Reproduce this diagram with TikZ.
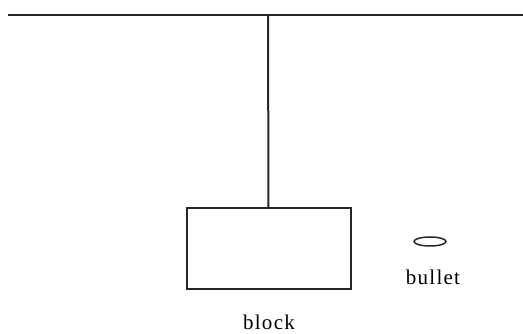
\documentclass[tikz,border=0pt]{standalone}
\usepackage{fontspec}
\usetikzlibrary{shapes.geometric}
\setmainfont{Liberation Serif}
\newfontfamily\lblfont[LetterSpace=6]{Liberation Serif}
\tikzset{
  ln/.style={line width=2pt, draw=black!85},
  lbl/.style={font=\lblfont\fontsize{21}{21}\selectfont, inner sep=0pt, anchor=base}
}
\begin{document}
\begin{tikzpicture}[x=1pt,y=-1pt]
\useasboundingbox (0,0) rectangle (523,334);
\coordinate (L) at (8,15);
\coordinate (R) at (523,15);
\coordinate (T) at (268,15);
\draw[ln] (L) -- (R);
\node[draw=black!85, line width=2pt, minimum width=164pt, minimum height=81pt, inner sep=0pt] (block) at (268.5,249) {};
\draw[ln] (T) -- (block.north);
\node[ellipse, draw=black!85, line width=1.5pt, minimum width=32pt, minimum height=9pt, inner sep=0pt] (bul) at (430,241.5) {};
\node[lbl] (bt) at (433,285) {bullet};
\node[lbl] (kt) at (269,330) {block};
\end{tikzpicture}
\end{document}
